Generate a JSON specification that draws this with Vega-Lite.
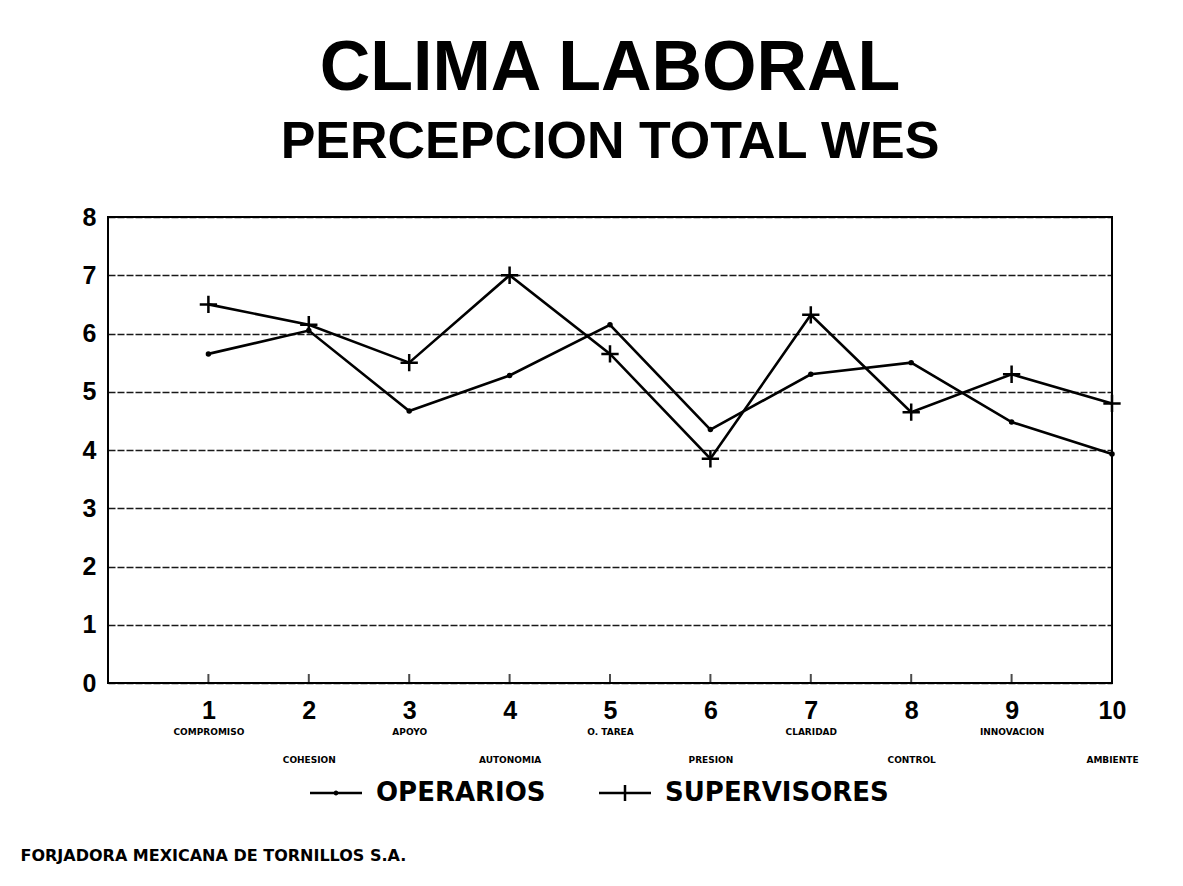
{
  "$schema": "https://vega.github.io/schema/vega-lite/v6.json",
  "autosize": {"type": "none"},
  "width": 1004,
  "height": 466,
  "padding": {"left": 108, "top": 217, "right": 71, "bottom": 203},
  "background": "white",
  "title": {
    "text": "CLIMA LABORAL",
    "subtitle": "PERCEPCION TOTAL WES",
    "anchor": "middle",
    "font": "Liberation Sans",
    "fontWeight": "bold",
    "fontSize": 70,
    "color": "black",
    "subtitleFont": "Liberation Sans",
    "subtitleFontWeight": "bold",
    "subtitleFontSize": 52,
    "subtitleColor": "black",
    "subtitlePadding": 12,
    "offset": 36
  },
  "config": {
    "view": {"stroke": "black", "strokeWidth": 2},
    "axis": {"labelColor": "black", "grid": false, "domain": false}
  },
  "data": {
    "values": [
      {"id": 1, "dimension": "COMPROMISO", "serie": "OPERARIOS", "valor": 5.65},
      {"id": 2, "dimension": "COHESION", "serie": "OPERARIOS", "valor": 6.05},
      {"id": 3, "dimension": "APOYO", "serie": "OPERARIOS", "valor": 4.67},
      {"id": 4, "dimension": "AUTONOMIA", "serie": "OPERARIOS", "valor": 5.28},
      {"id": 5, "dimension": "O. TAREA", "serie": "OPERARIOS", "valor": 6.15},
      {"id": 6, "dimension": "PRESION", "serie": "OPERARIOS", "valor": 4.35},
      {"id": 7, "dimension": "CLARIDAD", "serie": "OPERARIOS", "valor": 5.3},
      {"id": 8, "dimension": "CONTROL", "serie": "OPERARIOS", "valor": 5.5},
      {"id": 9, "dimension": "INNOVACION", "serie": "OPERARIOS", "valor": 4.48},
      {"id": 10, "dimension": "AMBIENTE", "serie": "OPERARIOS", "valor": 3.93},
      {"id": 1, "dimension": "COMPROMISO", "serie": "SUPERVISORES", "valor": 6.5},
      {"id": 2, "dimension": "COHESION", "serie": "SUPERVISORES", "valor": 6.15},
      {"id": 3, "dimension": "APOYO", "serie": "SUPERVISORES", "valor": 5.5},
      {"id": 4, "dimension": "AUTONOMIA", "serie": "SUPERVISORES", "valor": 7.0},
      {"id": 5, "dimension": "O. TAREA", "serie": "SUPERVISORES", "valor": 5.65},
      {"id": 6, "dimension": "PRESION", "serie": "SUPERVISORES", "valor": 3.85},
      {"id": 7, "dimension": "CLARIDAD", "serie": "SUPERVISORES", "valor": 6.32},
      {"id": 8, "dimension": "CONTROL", "serie": "SUPERVISORES", "valor": 4.65},
      {"id": 9, "dimension": "INNOVACION", "serie": "SUPERVISORES", "valor": 5.3},
      {"id": 10, "dimension": "AMBIENTE", "serie": "SUPERVISORES", "valor": 4.8}
    ]
  },
  "layer": [
    {
      "mark": {"type": "line", "color": "black", "strokeWidth": 2.6},
      "encoding": {
        "x": {
          "field": "id", "type": "quantitative",
          "scale": {"domain": [0, 10], "nice": false, "zero": false},
          "axis": {
            "orient": "bottom",
            "values": [1, 2, 3, 4, 5, 6, 7, 8, 9, 10],
            "format": "d",
            "labelFont": "Liberation Sans",
            "labelFontWeight": "bold",
            "labelFontSize": 25,
            "labelColor": "black",
            "labelPadding": 15,
            "labelFlush": false,
            "labelOverlap": false,
            "ticks": false,
            "domain": false,
            "grid": false,
            "title": "FORJADORA MEXICANA DE TORNILLOS S.A.",
            "titleFont": "DejaVu Sans",
            "titleFontWeight": "bold",
            "titleFontSize": 16,
            "titleColor": "black",
            "titleAnchor": "start",
            "titleAlign": "left",
            "titleBaseline": "middle",
            "titleX": -88,
            "titleY": 172
          }
        },
        "y": {
          "field": "valor", "type": "quantitative",
          "scale": {"domain": [0, 8], "nice": false},
          "axis": {
            "values": [0, 1, 2, 3, 4, 5, 6, 7, 8],
            "format": "d",
            "labelFont": "Liberation Sans",
            "labelFontWeight": "bold",
            "labelFontSize": 25,
            "labelColor": "black",
            "labelPadding": 12,
            "ticks": false,
            "domain": false,
            "grid": true,
            "gridColor": "black",
            "gridWidth": 1.6,
            "gridDash": [7, 2],
            "gridOpacity": 0.9,
            "title": null
          }
        },
        "detail": {"field": "serie", "type": "nominal"}
      }
    },
    {
      "transform": [{"filter": "datum.serie == 'OPERARIOS'"}],
      "mark": {"type": "tick", "orient": "vertical", "color": "black", "thickness": 2, "size": 18, "clip": true},
      "encoding": {
        "x": {"field": "id", "type": "quantitative", "scale": {"domain": [0, 10], "nice": false, "zero": false}, "axis": null},
        "y": {"datum": 0, "type": "quantitative"}
      }
    },
    {
      "transform": [{"filter": "datum.serie == 'OPERARIOS'"}],
      "mark": {"type": "point", "shape": "circle", "filled": true, "color": "black", "size": 30, "opacity": 1},
      "encoding": {
        "x": {"field": "id", "type": "quantitative", "scale": {"domain": [0, 10], "nice": false, "zero": false}, "axis": null},
        "y": {"field": "valor", "type": "quantitative"}
      }
    },
    {
      "transform": [{"filter": "datum.serie == 'SUPERVISORES'"}],
      "mark": {"type": "point", "shape": "M-1,0H1M0,-1V1", "filled": false, "color": "black", "strokeWidth": 2.5, "size": 300, "opacity": 1},
      "encoding": {
        "x": {"field": "id", "type": "quantitative", "scale": {"domain": [0, 10], "nice": false, "zero": false}, "axis": null},
        "y": {"field": "valor", "type": "quantitative"}
      }
    },
    {
      "mark": {"type": "point", "opacity": 0, "filled": false, "color": "black"},
      "encoding": {
        "x": {
          "field": "id", "type": "quantitative",
          "scale": {"domain": [0, 10], "nice": false, "zero": false},
          "axis": {
            "orient": "bottom",
            "values": [1, 2, 3, 4, 5, 6, 7, 8, 9, 10],
            "labelExpr": "datum.value % 2 == 1 ? [['','COMPROMISO','COHESION','APOYO','AUTONOMIA','O. TAREA','PRESION','CLARIDAD','CONTROL','INNOVACION','AMBIENTE'][datum.value]] : ['', ['','COMPROMISO','COHESION','APOYO','AUTONOMIA','O. TAREA','PRESION','CLARIDAD','CONTROL','INNOVACION','AMBIENTE'][datum.value]]",
            "labelFont": "DejaVu Sans",
            "labelFontWeight": "bold",
            "labelFontSize": 9,
            "labelColor": "black",
            "labelPadding": 44,
            "labelLineHeight": 28,
            "labelFlush": false,
            "labelOverlap": false,
            "labelBound": false,
            "ticks": false,
            "domain": false,
            "grid": false,
            "title": null
          }
        },
        "y": {"field": "valor", "type": "quantitative"},
        "shape": {
          "field": "serie", "type": "nominal",
          "scale": {
            "domain": ["OPERARIOS", "SUPERVISORES"],
            "range": [
              "M-2.6,0H2.6M-0.12,0A0.12,0.12,0,1,1,0.12,0A0.12,0.12,0,1,1,-0.12,0Z",
              "M-2.6,0H2.6M0,-0.8V0.8"
            ]
          },
          "legend": {
            "orient": "none",
            "legendX": 215,
            "legendY": 563,
            "direction": "horizontal",
            "title": null,
            "padding": 0,
            "labelFont": "DejaVu Sans",
            "labelFontWeight": "bold",
            "labelFontSize": 26,
            "labelColor": "black",
            "labelLimit": 500,
            "labelOffset": 27,
            "labelBaseline": "middle",
            "symbolSize": 400,
            "symbolOpacity": 1,
            "symbolStrokeColor": "black",
            "symbolFillColor": "transparent",
            "symbolStrokeWidth": 2.5,
            "columnPadding": 48
          }
        }
      }
    }
  ],
  "resolve": {"scale": {"x": "independent", "shape": "independent"}, "axis": {"x": "independent"}}
}
